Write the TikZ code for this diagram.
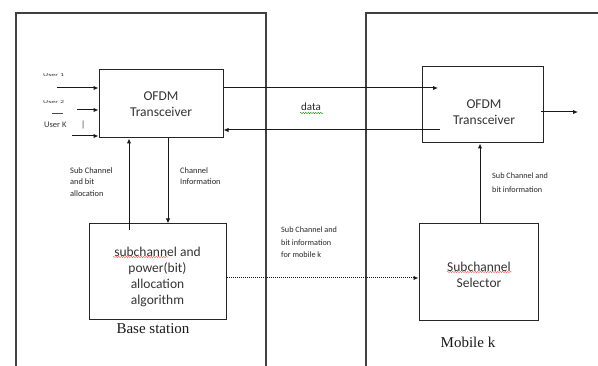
\documentclass[tikz,border=0pt]{standalone}
\usepackage{fontspec}
\setmainfont{Carlito}
\newfontfamily\placefont{Liberation Serif}
\usetikzlibrary{arrows.meta,decorations.pathmorphing}
\begin{document}
\begin{tikzpicture}[x=1pt,y=-1pt,
  frame/.style={draw=black!75,line width=1.2pt},
  blk/.style={draw=black!85,line width=1pt,inner sep=0pt},
  conn/.style={draw=black!90,line width=1pt,-{Latex[length=5pt,width=4.5pt]}},
  dotconn/.style={conn,densely dotted},
  bigtxt/.style={font=\fontsize{13.5}{16}\selectfont,align=center,text=black!80,inner sep=0pt},
  smalltxt/.style={font=\fontsize{8.4}{11.5}\selectfont,align=left,anchor=north west,inner sep=0pt,text=black!85},
  usertxt/.style={font=\fontsize{8}{9}\selectfont,anchor=west,inner sep=0pt,text=black!80},
  placetxt/.style={font=\placefont\fontsize{15}{18}\selectfont,inner sep=0pt,text=black!90},
  squiggle/.style={decorate,decoration={snake,amplitude=0.6pt,segment length=2.5pt},line width=0.4pt}
]
\useasboundingbox (0,0) rectangle (598,366);

% outer frames of base station and mobile
\draw[frame] (16,366) -- (16,13) -- (266,13) -- (266,366);
\draw[frame] (366,366) -- (366,13) -- (598,13);

% blocks
\node[blk,minimum width=124pt,minimum height=68pt] (ofdmL) at (161,104) {};
\node[blk,minimum width=121pt,minimum height=76pt] (ofdmR) at (482.5,105) {};
\node[blk,minimum width=137pt,minimum height=96pt] (alloc) at (157.5,272) {};
\node[blk,minimum width=119pt,minimum height=97pt] (sel) at (478.5,272.5) {};

\node[bigtxt] (tL) at (161,104) {OFDM\\Transceiver};
\node[bigtxt] (tR) at (484,112.5) {OFDM\\Transceiver};
\node[bigtxt] (tA) at (157.5,277) {subchannel and\\power(bit)\\allocation\\algorithm};
\node[bigtxt] (tS) at (479,274.5) {Subchannel\\Selector};

% spell-check marks
\draw[squiggle,red!70] (113,257) -- (168,257);
\draw[squiggle,red!70] (447,272) -- (512,272);
\draw[squiggle,green!50!black] (300,113) -- (323,113);

% user inputs
\node[usertxt] (l1) at (43,75) {\scalebox{1}[0.55]{User 1}};
\node[usertxt] (l2) at (43,102) {\scalebox{1}[0.55]{User 2}};
\node[usertxt,font=\fontsize{8.5}{10}\selectfont] (lk) at (44,125) {User K};
\node[usertxt,font=\fontsize{9}{10}\selectfont] (dots) at (81,125) {|};
\draw[black!70,line width=0.6pt] (52,113) -- (63,113);
\coordinate (u1) at (57,88);
\coordinate (u2) at (77,110);
\coordinate (uk) at (72,136);
\draw[conn] (u1) -- (u1 -| ofdmL.west);
\draw[conn] (u2) -- (u2 -| ofdmL.west);
\draw[conn] (uk) -- (uk -| ofdmL.west);

% data link between transceivers
\coordinate (dIn) at (438,88);
\coordinate (dBack) at (440,130);
\draw[conn] (dIn -| ofdmL.east) -- (dIn);
\draw[conn] (dBack) -- (dBack -| ofdmL.east);
\node[font=\fontsize{11}{13}\selectfont,inner sep=0pt,text=black!85] (data) at (311,107) {data};

% output of mobile transceiver
\coordinate (oS) at (541,112);
\coordinate (oE) at (578,112);
\draw[conn] (oS) -- (oE);

% vertical links at base station
\coordinate (upS) at (129,230);
\draw[conn] (upS) -- (upS |- ofdmL.south);
\coordinate (dnX) at (168,0);
\draw[conn] (dnX |- ofdmL.south) -- (dnX |- alloc.north);
\node[smalltxt] (lb1) at (70,167) {Sub Channel\\and bit\\allocation};
\node[smalltxt] (lb2) at (180,167) {Channel\\Information};

% link to the mobile
\coordinate (dt) at (0,278);
\draw[dotconn] (dt -| alloc.east) -- (dt -| sel.west);
\node[smalltxt,font=\fontsize{8.2}{12.5}\selectfont] (lb3) at (281,227) {Sub Channel and\\bit information\\for mobile k};

% vertical link at the mobile
\coordinate (rX) at (480,0);
\draw[conn] (rX |- sel.north) -- (rX |- ofdmR.south);
\node[smalltxt,font=\fontsize{8.2}{14}\selectfont] (lb4) at (492,172.5) {Sub Channel and\\bit information};

% captions
\node[placetxt] (bs) at (153,329) {Base station};
\node[placetxt] (mk) at (468,342) {Mobile k};
\end{tikzpicture}
\end{document}
